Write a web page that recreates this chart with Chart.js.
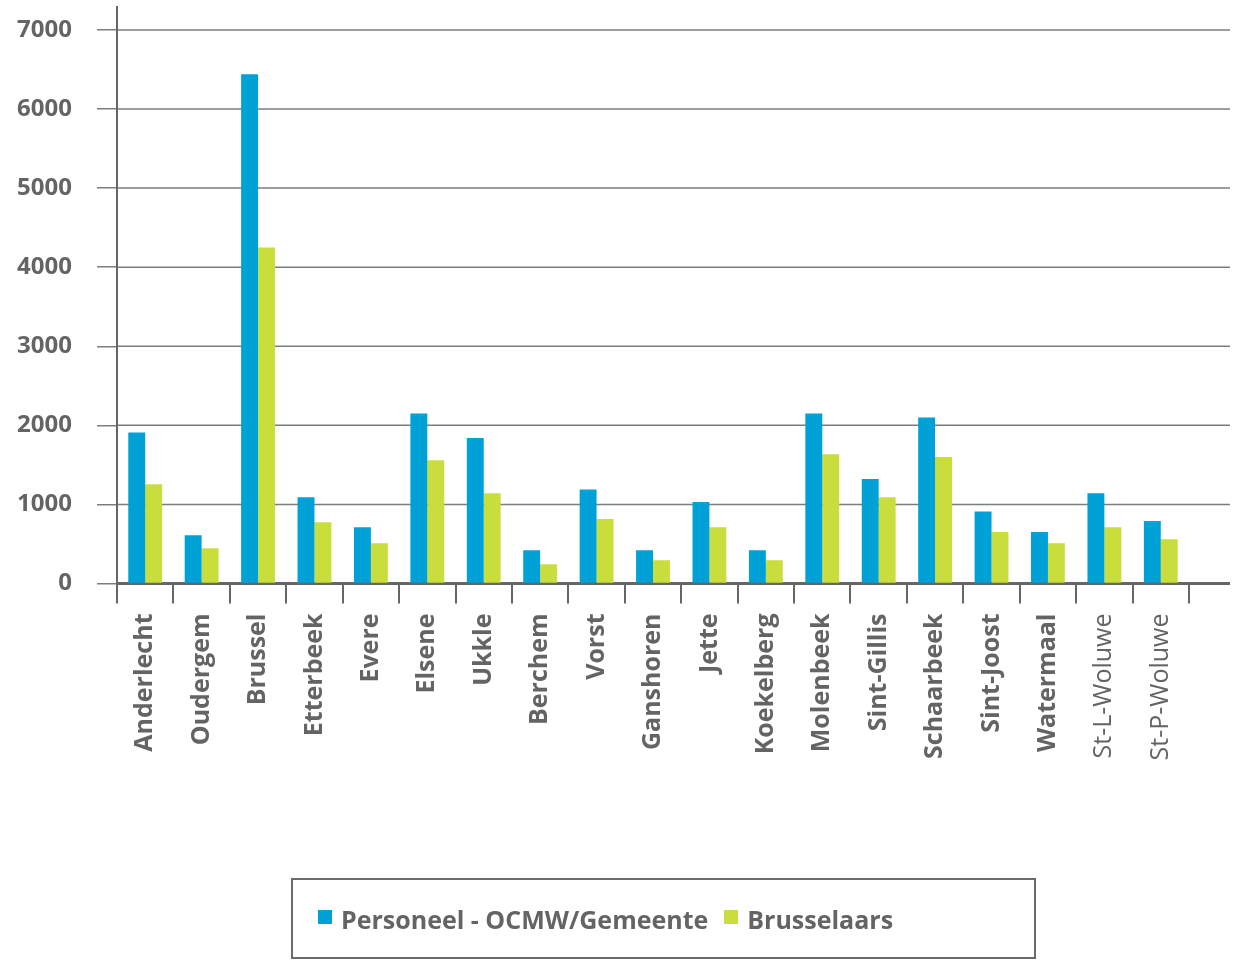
<!DOCTYPE html>
<html lang="nl">
<head>
<meta charset="utf-8">
<title>Personeel OCMW/Gemeente en Brusselaars per gemeente</title>
<script src="https://cdn.jsdelivr.net/npm/chart.js@4/dist/chart.umd.min.js"></script>
<style>
    html, body { margin: 0; padding: 0; background: #fff; }
    #wrap { position: relative; width: 1240px; height: 966px; }
    #legend {
        position: absolute; left: 291px; top: 878px; width: 745px; height: 81px;
        box-sizing: border-box; border: 2px solid #6b6b6b;
        display: flex; align-items: center; padding-left: 25px;
        font-family: 'Open Sans', sans-serif; font-weight: bold; font-size: 25px; color: #646464;
    }
    #legend .item { display: flex; align-items: center; margin-right: 16px; }
    #legend .box { width: 14px; height: 14px; margin-right: 9px; margin-top: -4px; }
</style>
</head>
<body>
<div id="wrap">
    <canvas id="gemeenteChart"></canvas>
    <div id="legend"></div>
</div>
<script>
const gemeenten = ['Anderlecht', 'Oudergem', 'Brussel', 'Etterbeek', 'Evere', 'Elsene', 'Ukkle', 'Berchem',
    'Vorst', 'Ganshoren', 'Jette', 'Koekelberg', 'Molenbeek', 'Sint-Gillis', 'Schaarbeek', 'Sint-Joost',
    'Watermaal', 'St-L-Woluwe', 'St-P-Woluwe'];
const personeel = [1910, 610, 6440, 1090, 710, 2150, 1840, 420, 1190, 420, 1030, 420, 2150, 1320, 2100, 910, 650, 1140, 790];
const brusselaars = [1255, 445, 4250, 775, 510, 1560, 1140, 245, 815, 295, 710, 295, 1635, 1090, 1600, 650, 510, 710, 560];
const seriesLabels = ['Personeel - OCMW/Gemeente', 'Brusselaars'];
const yTicks = [0, 1000, 2000, 3000, 4000, 5000, 6000, 7000];

const BLUE = '#00a1d6';
const GREEN = '#c9de3d';
const GREY = '#646464';
const GRID_END = 1230; // horizontal lines run a bit past the last category

Chart.defaults.font.family = "'Open Sans', sans-serif";

// horizontal grid lines, drawn across the plot and a bit beyond it
const gridLines = {
    id: 'gridLines',
    beforeDatasetsDraw(chart) {
        const { ctx, chartArea, scales } = chart;
        ctx.save();
        scales.y.ticks.forEach(t => {
            const py = scales.y.getPixelForValue(t.value);
            ctx.beginPath();
            if (t.value === 0) {
                // baseline: the x axis border already covers the plot, only add its tail
                ctx.lineWidth = 3;
                ctx.strokeStyle = '#666';
                ctx.moveTo(chartArea.right - 2, py);
            } else {
                ctx.lineWidth = 1.5;
                ctx.strokeStyle = '#7d7d7d';
                ctx.moveTo(chartArea.left + 1, py);
            }
            ctx.lineTo(GRID_END, py);
            ctx.stroke();
        });
        ctx.restore();
    }
};

const chart = new Chart(document.getElementById('gemeenteChart'), {
    type: 'bar',
    data: {
        labels: gemeenten,
        datasets: [
            { label: seriesLabels[0], data: personeel, backgroundColor: BLUE },
            { label: seriesLabels[1], data: brusselaars, backgroundColor: GREEN }
        ]
    },
    options: {
        responsive: true,
        maintainAspectRatio: false,
        animation: false,
        layout: { padding: { top: 7, right: 51, left: 0, bottom: 0 } },
        datasets: { bar: { barPercentage: 1, categoryPercentage: 0.6 } },
        plugins: { legend: { display: false }, tooltip: { enabled: false } },
        scales: {
            x: {
                afterFit: s => { s.height = 382.5; s.paddingLeft = 0; s.paddingRight = 0; },
                grid: { drawOnChartArea: false, drawTicks: true, tickLength: 20, color: '#666', lineWidth: 2, offset: true },
                border: { color: '#666', width: 3 },
                ticks: {
                    autoSkip: false, maxRotation: 90, minRotation: 90, padding: 10, color: GREY,
                    font: c => ({ size: 25, weight: c.index >= 17 ? 'normal' : 'bold' })
                }
            },
            y: {
                min: 0,
                max: 7290,
                afterFit: s => { s.width = 117; s.paddingTop = 0; s.paddingBottom = 0; },
                afterBuildTicks: s => { s.ticks = yTicks.map(v => ({ value: v })); },
                grid: { drawOnChartArea: false, color: '#7d7d7d', lineWidth: 1.5, tickLength: 20 },
                border: { color: '#666', width: 2 },
                ticks: { padding: 25, color: GREY, font: { size: 24, weight: 'bold' }, callback: v => String(v) }
            }
        }
    },
    plugins: [gridLines]
});

// legend in a framed box under the chart
const legendEl = document.getElementById('legend');
chart.data.datasets.forEach(ds => {
    const item = document.createElement('span');
    item.className = 'item';
    const box = document.createElement('span');
    box.className = 'box';
    box.style.background = ds.backgroundColor;
    item.appendChild(box);
    item.appendChild(document.createTextNode(ds.label));
    legendEl.appendChild(item);
});
</script>
</body>
</html>
